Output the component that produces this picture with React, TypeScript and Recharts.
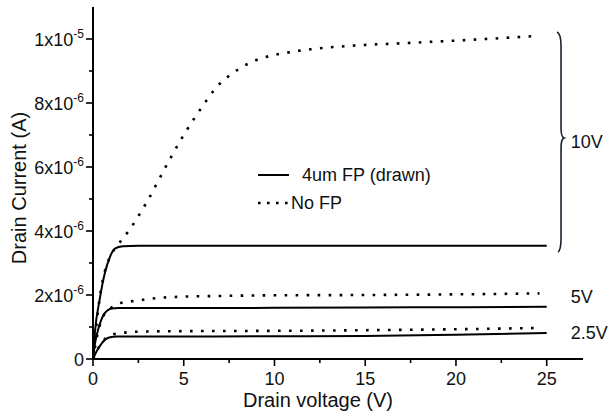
import React from "react";
import { LineChart, Line, XAxis, YAxis, Legend, ReferenceLine, ReferenceDot, Label } from "recharts";

// ---- data (current in A, voltage in V) ----
const fp10X = [0, 0.1, 0.38, 0.66, 0.94, 1.2, 1.65, 2.5, 5, 10, 15, 20, 25];
const fp10Y = [0, 0.8e-6, 1.9e-6, 2.7e-6, 3.2e-6, 3.45e-6, 3.52e-6, 3.54e-6, 3.54e-6, 3.54e-6, 3.54e-6, 3.54e-6, 3.54e-6];

const fp5X = [0, 0.1, 0.3, 0.57, 0.8, 1.03, 1.4, 2, 5, 10, 15, 20, 25];
const fp5Y = [0, 0.45e-6, 0.95e-6, 1.37e-6, 1.52e-6, 1.58e-6, 1.59e-6, 1.59e-6, 1.59e-6, 1.6e-6, 1.61e-6, 1.62e-6, 1.63e-6];

const fp25X = [0, 0.2, 0.48, 0.7, 0.94, 1.3, 2, 5, 10, 15, 20, 25];
const fp25Y = [0, 0.24e-6, 0.49e-6, 0.62e-6, 0.68e-6, 0.7e-6, 0.7e-6, 0.7e-6, 0.71e-6, 0.72e-6, 0.76e-6, 0.81e-6];

const nofp10X = [0, 0.38, 0.94, 1.3, 2.0, 3.0, 4.0, 5.0, 6.0, 6.63, 7.0, 7.5, 8.0, 8.9, 9.9, 10.45, 12, 14, 17.5, 21, 24.6];
const nofp10Y = [0, 1.95e-6, 3.2e-6, 3.51e-6, 4.03e-6, 4.94e-6, 6.0e-6, 7.0e-6, 7.87e-6, 8.37e-6, 8.61e-6, 8.85e-6, 9.05e-6, 9.32e-6, 9.49e-6, 9.55e-6, 9.68e-6, 9.78e-6, 9.88e-6, 9.98e-6, 10.1e-6];

const nofp5X = [0, 0.3, 0.6, 1.0, 1.58, 2.4, 3.0, 3.9, 5, 7, 10, 15, 20, 24.6];
const nofp5Y = [0, 0.9e-6, 1.38e-6, 1.6e-6, 1.76e-6, 1.82e-6, 1.87e-6, 1.92e-6, 1.95e-6, 1.97e-6, 1.99e-6, 2.0e-6, 2.02e-6, 2.05e-6];

const nofp25X = [0, 0.2, 0.48, 0.7, 1.0, 1.65, 2.3, 3, 5, 10, 15, 20, 24.6];
const nofp25Y = [0, 0.24e-6, 0.5e-6, 0.65e-6, 0.75e-6, 0.82e-6, 0.85e-6, 0.86e-6, 0.87e-6, 0.88e-6, 0.9e-6, 0.93e-6, 0.97e-6];

const xTicks = [0, 2.5, 5, 7.5, 10, 12.5, 15, 17.5, 20, 22.5, 25];
const xTickLabels = ["0", "", "5", "", "10", "", "15", "", "20", "", "25"];
const yTicks = [0, 1e-6, 2e-6, 3e-6, 4e-6, 5e-6, 6e-6, 7e-6, 8e-6, 9e-6, 1e-5];
const yTickMantissa = ["0", "", "2x10", "", "4x10", "", "6x10", "", "8x10", "", "1x10"];
const yTickExp = ["", "", "-6", "", "-6", "", "-6", "", "-6", "", "-5"];

const gateLabels = ["10V", "5V", "2.5V"];
const gateLabelY = [6.79e-6, 1.95e-6, 0.81e-6];
const legendNames = ["4um FP (drawn)", "No FP"];

const zip = (xs: number[], ys: number[]) => xs.map((x, i) => ({ x, y: ys[i] }));

const FONT = '"Liberation Sans", Arial, sans-serif';
const DOT = "2.6 8.4";

const XTick = (props: any) => {
  const { x, y, index } = props;
  const major = xTickLabels[index] !== "";
  return (
    <g>
      <line x1={x} x2={x} y1={y} y2={y + (major ? 7 : 4)} stroke="#000" strokeWidth={1.6} />
      {major && (
        <text x={x} y={y + 26} textAnchor="middle" fontSize={18} fontFamily={FONT} fill="#111">
          {xTickLabels[index]}
        </text>
      )}
    </g>
  );
};

const YTick = (props: any) => {
  const { x, y, index } = props;
  const major = yTickMantissa[index] !== "";
  return (
    <g>
      <line x1={x - (major ? 7 : 4)} x2={x} y1={y} y2={y} stroke="#000" strokeWidth={1.6} />
      {major && (
        <text x={x - 9} y={y + 6.5} textAnchor="end" fontSize={18} fontFamily={FONT} fill="#111">
          {yTickMantissa[index]}
          {yTickExp[index] && (
            <tspan dy={-8} fontSize={12}>
              {yTickExp[index]}
            </tspan>
          )}
        </text>
      )}
    </g>
  );
};

const Brace = (p: any) => {
  const x = p.x1;
  const top = Math.min(p.y1, p.y2);
  const bot = Math.max(p.y1, p.y2);
  const mid = (top + bot) / 2 - 4;
  const d = `M ${x - 4} ${top} Q ${x} ${top + 2} ${x} ${top + 14} L ${x} ${mid - 10} Q ${x} ${mid - 1} ${x + 3} ${mid} Q ${x} ${mid + 1} ${x} ${mid + 10} L ${x} ${bot - 14} Q ${x} ${bot - 2} ${x - 3} ${bot}`;
  return <path d={d} fill="none" stroke="#1a1f2e" strokeWidth={1.6} />;
};

const gateText = (label: string) => (p: any) => (
  <text x={p.cx} y={p.cy} dominantBaseline="central" fontSize={18} fontFamily={FONT} fill="#111">
    {label}
  </text>
);

const renderLegend = () => (
  <svg width={230} height={60} style={{ display: "block" }}>
    <line x1={3} x2={34} y1={14} y2={14} stroke="#000" strokeWidth={2} />
    <text x={47} y={14} dominantBaseline="central" fontSize={18} fontFamily={FONT} fill="#111">
      {legendNames[0]}
    </text>
    <line x1={3} x2={34} y1={42} y2={42} stroke="#000" strokeWidth={2.6} strokeDasharray="2.6 6.4" />
    <text x={36} y={42} dominantBaseline="central" fontSize={18} fontFamily={FONT} fill="#111">
      {legendNames[1]}
    </text>
  </svg>
);

export default function App() {
  return (
    <div style={{ position: "absolute", left: 0, top: 0, width: 610, height: 414, background: "#fff" }}>
      <LineChart width={610} height={414} margin={{ top: 7, right: 27, bottom: 0, left: 0 }}>
        <XAxis
          type="number"
          dataKey="x"
          domain={[0, 27]}
          ticks={xTicks}
          interval={0}
          allowDataOverflow
          tick={<XTick />}
          tickLine={false}
          tickSize={0}
          tickMargin={0}
          height={55}
          axisLine={{ stroke: "#000", strokeWidth: 2 }}
        >
          <Label
            content={(p: any) => (
              <text x={p.viewBox.x + 225} y={p.viewBox.y + 48} textAnchor="middle" fontSize={20} fontFamily={FONT} fill="#111">
                Drain voltage (V)
              </text>
            )}
          />
        </XAxis>
        <YAxis
          type="number"
          domain={[0, 1.1e-5]}
          ticks={yTicks}
          interval={0}
          allowDataOverflow
          tick={<YTick />}
          tickLine={false}
          tickSize={0}
          tickMargin={0}
          width={93}
          axisLine={{ stroke: "#000", strokeWidth: 2 }}
        >
          <Label
            content={() => (
              <text
                x={19}
                y={188}
                transform="rotate(-90, 19, 188)"
                textAnchor="middle"
                dominantBaseline="central"
                fontSize={20}
                fontFamily={FONT}
                fill="#111"
              >
                Drain Current (A)
              </text>
            )}
          />
        </YAxis>
        <Legend
          layout="horizontal"
          align="center"
          verticalAlign="middle"
          content={renderLegend}
          wrapperStyle={{ left: 255, top: 161, width: 230, height: 60 }}
        />

        <Line data={zip(fp10X, fp10Y)} dataKey="y" type="monotone" stroke="#000" strokeWidth={2} dot={false} isAnimationActive={false} legendType="none" />
        <Line data={zip(fp5X, fp5Y)} dataKey="y" type="monotone" stroke="#000" strokeWidth={2} dot={false} isAnimationActive={false} legendType="none" />
        <Line data={zip(fp25X, fp25Y)} dataKey="y" type="monotone" stroke="#000" strokeWidth={2} dot={false} isAnimationActive={false} legendType="none" />
        <Line data={zip(nofp10X, nofp10Y)} dataKey="y" type="monotone" stroke="#000" strokeWidth={2.6} strokeDasharray={DOT} dot={false} isAnimationActive={false} legendType="none" />
        <Line data={zip(nofp5X, nofp5Y)} dataKey="y" type="monotone" stroke="#000" strokeWidth={2.6} strokeDasharray={DOT} dot={false} isAnimationActive={false} legendType="none" />
        <Line data={zip(nofp25X, nofp25Y)} dataKey="y" type="monotone" stroke="#000" strokeWidth={2.6} strokeDasharray={DOT} dot={false} isAnimationActive={false} legendType="none" />

        <ReferenceLine segment={[{ x: 25.79, y: 10.22e-6 }, { x: 25.79, y: 3.34e-6 }]} shape={Brace} ifOverflow="visible" />
        {gateLabels.map((g, i) => (
          <ReferenceDot key={g} x={26.33} y={gateLabelY[i]} r={0} shape={gateText(g)} ifOverflow="visible" />
        ))}
      </LineChart>
    </div>
  );
}
